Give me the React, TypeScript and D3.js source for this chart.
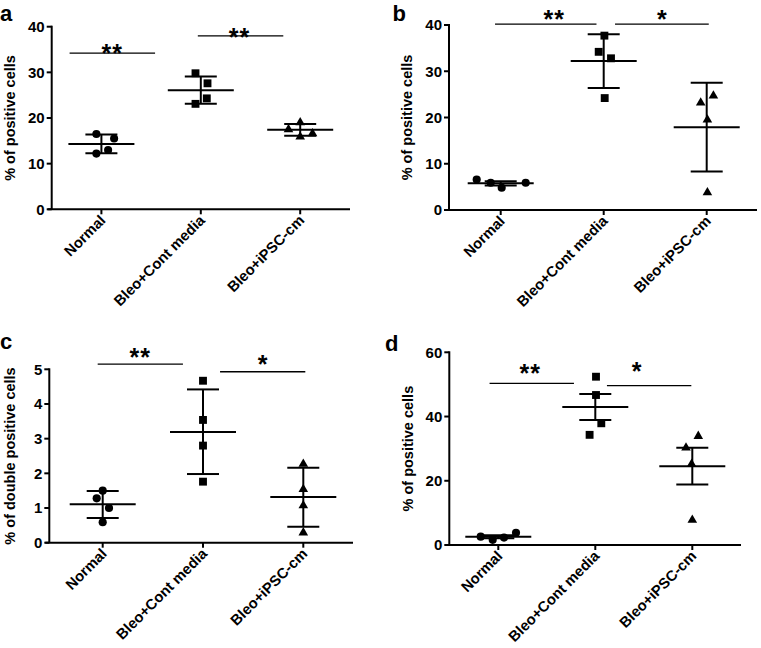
import React from "react";
import * as d3 from "d3";

const categories = ["Normal", "Bleo+Cont media", "Bleo+iPSC-cm"];

// Panel a
const aValues = [[16.5, 15.5, 13.0, 12.2], [29.8, 27.6, 24.3, 23.1], [19.0, 17.5, 16.6, 15.9]];
const aMean = [14.3, 26.1, 17.4];
const aUpper = [16.4, 29.1, 18.7];
const aLower = [12.3, 23.1, 16.1];
const aTicks = [0, 10, 20, 30, 40];
const aSig = [
  { from: -0.32, to: 0.54, y: 34.2, label: "**", starAt: 0.11, starY: 34.6 },
  { from: 0.97, to: 1.83, y: 38.0, label: "**", starAt: 1.39, starY: 38.1 },
];

// Panel b
const bValues = [[6.6, 5.9, 4.8, 5.9], [37.7, 34.2, 32.8, 24.2], [24.7, 23.2, 19.5, 3.8]];
const bMean = [5.8, 32.2, 17.9];
const bUpper = [6.2, 38.0, 27.5];
const bLower = [5.3, 26.4, 8.3];
const bTicks = [0, 10, 20, 30, 40];
const bSig = [
  { from: -0.055, to: 0.93, y: 40.2, label: "**", starAt: 0.52, starY: 41.7 },
  { from: 1.11, to: 2.02, y: 40.2, label: "*", starAt: 1.57, starY: 41.7 },
];

// Panel c
const cValues = [[1.5, 1.28, 1.0, 0.59], [4.67, 3.54, 2.8, 1.76], [2.27, 1.54, 1.07, 0.29]];
const cMean = [1.11, 3.19, 1.32];
const cUpper = [1.49, 4.42, 2.16];
const cLower = [0.71, 1.98, 0.46];
const cTicks = [0, 1, 2, 3, 4, 5];
const cSig = [
  { from: -0.05, to: 0.8, y: 5.15, label: "**", starAt: 0.375, starY: 5.41 },
  { from: 1.17, to: 2.02, y: 4.93, label: "*", starAt: 1.6, starY: 5.21 },
];

// Panel d
const dValues = [[2.6, 1.6, 2.3, 3.8], [52.4, 46.7, 37.9, 34.3], [33.9, 30.3, 25.2, 7.8]];
const dMean = [2.6, 43.0, 24.5];
const dUpper = [3.0, 47.0, 30.3];
const dLower = [2.1, 38.9, 18.8];
const dTicks = [0, 20, 40, 60];
const dSig = [
  { from: -0.09, to: 0.78, y: 50.3, label: "**", starAt: 0.33, starY: 53.96 },
  { from: 1.12, to: 1.99, y: 49.6, label: "*", starAt: 1.43, starY: 54.5 },
];

// horizontal scatter offsets (px) of the dots inside each group
const aJitter = [[-5, 12.7, 6.7, -5], [-5.3, 6.7, 6, -5.3], [0, -11.7, 12.3, 0]];
const bJitter = [[-24, -10, 1, 25], [0.7, -5, 7.3, 1], [6.7, -6, 0.7, 0.7]];
const cJitter = [[0, -6, 6.3, 0], [0, 0, 0, 0], [0, 0, 0, 0]];
const dJitter = [[-17.6, -5.6, 5.7, 17.7], [0.7, 0.7, 6, -5.7], [6, -6.3, -0.7, 0]];

const FONT = "'Liberation Sans', Arial, Helvetica, sans-serif";

type Sig = { from: number; to: number; y: number; label: string; starAt: number; starY: number };

interface PanelProps {
  letter: string;
  letterX: number;
  letterY: number;
  yLabel: string;
  yLabelX: number;
  axisX: number;
  axisEnd: number;
  c0: number;
  step: number;
  yTop: number;
  yBot: number;
  max: number;
  ticks: number[];
  values: number[][];
  jitter: number[][];
  mean: number[];
  upper: number[];
  lower: number[];
  sig: Sig[];
}

const symbols = [d3.symbolCircle, d3.symbolSquare, d3.symbolTriangle];
const symbolSizes = [52, 62, 40];

function Panel(p: PanelProps) {
  const x = d3.scalePoint<string>().domain(categories).range([p.c0, p.c0 + 2 * p.step]);
  const xi = d3.scaleLinear().domain([0, 2]).range([p.c0, p.c0 + 2 * p.step]);
  const y = d3.scaleLinear().domain([0, p.max]).range([p.yBot, p.yTop]);
  const capHalf = 16;
  const meanHalf = 33;
  const starFs = 25;
  return (
    <g>
      <text x={p.letterX} y={p.letterY} fontFamily={FONT} fontWeight="bold" fontSize={22}>
        {p.letter}
      </text>
      {/* y axis */}
      <line x1={p.axisX} x2={p.axisX} y1={y(p.max) - 1} y2={p.yBot} stroke="#000" strokeWidth={2} />
      {p.ticks.map((t) => (
        <g key={t}>
          <line x1={p.axisX - 5} x2={p.axisX} y1={y(t)} y2={y(t)} stroke="#000" strokeWidth={2} />
          <text
            x={p.axisX - 7}
            y={y(t)}
            dy="0.36em"
            textAnchor="end"
            fontFamily={FONT}
            fontWeight="bold"
            fontSize={15}
          >
            {t}
          </text>
        </g>
      ))}
      <text
        transform={`translate(${p.yLabelX},${(p.yTop + p.yBot) / 2}) rotate(-90)`}
        textAnchor="middle"
        dy="0.35em"
        fontFamily={FONT}
        fontWeight="bold"
        fontSize={14.5}
      >
        {p.yLabel}
      </text>
      {/* x axis */}
      <line x1={p.axisX - 4} x2={p.axisEnd} y1={p.yBot} y2={p.yBot} stroke="#000" strokeWidth={2} />
      {categories.map((c) => (
        <g key={c}>
          <line x1={x(c)} x2={x(c)} y1={p.yBot} y2={p.yBot + 5} stroke="#000" strokeWidth={2} />
          <text
            transform={`translate(${(x(c) as number) + 5},${p.yBot + 12}) rotate(-45)`}
            textAnchor="end"
            fontFamily={FONT}
            fontWeight="bold"
            fontSize={14.8}
          >
            {c}
          </text>
        </g>
      ))}
      {/* points */}
      {categories.map((c, i) =>
        p.values[i].map((v, j) => (
          <path
            key={`${c}-${j}`}
            transform={`translate(${(x(c) as number) + p.jitter[i][j]},${y(v)})`}
            d={d3.symbol().type(symbols[i]).size(symbolSizes[i])() as string}
            fill="#000"
          />
        ))
      )}
      {/* mean and error bars */}
      {categories.map((c, i) => {
        const cx = x(c) as number;
        return (
          <g key={`eb-${c}`} stroke="#000" strokeWidth={2}>
            <line x1={cx} x2={cx} y1={y(p.lower[i])} y2={y(p.upper[i])} />
            <line x1={cx - capHalf} x2={cx + capHalf} y1={y(p.upper[i])} y2={y(p.upper[i])} />
            <line x1={cx - capHalf} x2={cx + capHalf} y1={y(p.lower[i])} y2={y(p.lower[i])} />
            <line x1={cx - meanHalf} x2={cx + meanHalf} y1={y(p.mean[i])} y2={y(p.mean[i])} />
          </g>
        );
      })}
      {/* significance */}
      {p.sig.map((s, k) => (
        <g key={`sig-${k}`}>
          <line x1={xi(s.from)} x2={xi(s.to)} y1={y(s.y)} y2={y(s.y)} stroke="#000" strokeWidth={1.3} />
          <text
            x={xi(s.starAt)}
            y={y(s.starY) + starFs * 0.42}
            textAnchor="middle"
            fontFamily={FONT}
            fontWeight="bold"
            fontSize={starFs}
            letterSpacing={1}
          >
            {s.label}
          </text>
        </g>
      ))}
    </g>
  );
}

export default function App() {
  return (
    <svg
      width={761}
      height={648}
      style={{ position: "absolute", left: 0, top: 0, background: "#fff" }}
    >
      <rect width={761} height={648} fill="#fff" />
      <Panel
        letter="a" letterX={0} letterY={20.5} yLabel="% of positive cells" yLabelX={10}
        axisX={51.7} axisEnd={350} c0={101.4} step={99.4} yTop={26.7} yBot={209.3} max={40}
        ticks={aTicks} values={aValues} jitter={aJitter} mean={aMean} upper={aUpper} lower={aLower} sig={aSig}
      />
      <Panel
        letter="b" letterX={392.5} letterY={20.5} yLabel="% of positive cells" yLabelX={407}
        axisX={449} axisEnd={757} c0={500.7} step={103} yTop={25} yBot={210} max={40}
        ticks={bTicks} values={bValues} jitter={bJitter} mean={bMean} upper={bUpper} lower={bLower} sig={bSig}
      />
      <Panel
        letter="c" letterX={0} letterY={348.5} yLabel="% of double positive cells" yLabelX={10}
        axisX={49.3} axisEnd={353} c0={102.7} step={100.3} yTop={369.3} yBot={542.7} max={5}
        ticks={cTicks} values={cValues} jitter={cJitter} mean={cMean} upper={cUpper} lower={cLower} sig={cSig}
      />
      <Panel
        letter="d" letterX={385} letterY={351} yLabel="% of positive cells" yLabelX={408.3}
        axisX={449.3} axisEnd={741} c0={498.3} step={97} yTop={352.3} yBot={545} max={60}
        ticks={dTicks} values={dValues} jitter={dJitter} mean={dMean} upper={dUpper} lower={dLower} sig={dSig}
      />
    </svg>
  );
}
